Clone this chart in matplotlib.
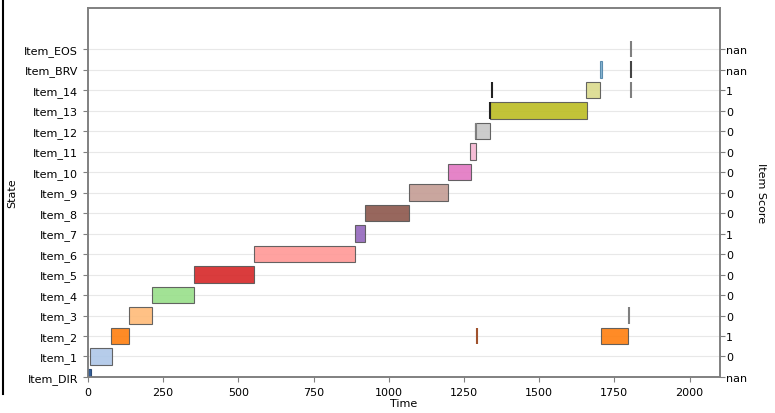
import matplotlib.pyplot as plt
from matplotlib.lines import Line2D

states = ["Item_DIR", "Item_1", "Item_2", "Item_3", "Item_4", "Item_5", "Item_6",
          "Item_7", "Item_8", "Item_9", "Item_10", "Item_11", "Item_12",
          "Item_13", "Item_14", "Item_BRV", "Item_EOS"]
scores = ["nan", "0", "1", "0", "0", "0", "0", "1", "0", "0", "0", "0", "0",
          "0", "1", "nan", "nan"]

# state intervals (row, start, end)
bar_rows = [0, 1, 2, 3, 4, 5, 6, 7, 8, 9, 10, 11, 12, 13, 14, 15, 2]
bar_start = [0, 8, 78, 135, 214, 351, 551, 887, 921, 1067, 1197, 1271, 1288,
             1336, 1657, 1703, 1707]
bar_end = [9, 79, 136, 214, 352, 551, 888, 921, 1068, 1198, 1272, 1289, 1338,
           1658, 1704, 1710, 1796]
bar_colors = ["#1f4f8f", "#aec7e8", "#ff7f0e", "#ffbb78", "#98df8a", "#d62728",
              "#ff9896", "#9467bd", "#8c564b", "#c49c94", "#e377c2", "#f7b6d2",
              "#c7c7c7", "#bcbd22", "#dbdb8d", "#7fb0d0", "#ff7f0e"]
edge_colors = ["#1f3f6f", "#555555", "#555555", "#555555", "#555555", "#555555",
               "#555555", "#555555", "#555555", "#555555", "#555555", "#555555",
               "#555555", "#555555", "#555555", "#4f84a8", "#555555"]

# single events (row, time)
event_rows = [16, 15, 14, 3, 2, 14, 13, 12]
event_time = [1805, 1805, 1805, 1798, 1292, 1343, 1338, 1289]
event_colors = ["#7f7f7f", "#444444", "#7f7f7f", "#7f7f7f", "#a0522d",
                "#222222", "#222222", "#7f7f7f"]

fig = plt.figure(figsize=(7.75, 4.14), dpi=100)
ax = fig.add_axes([0.1135, 0.087, 0.815, 0.891])

for r, s, e, c, ec in zip(bar_rows, bar_start, bar_end, bar_colors, edge_colors):
    ax.barh(r, e - s, left=s, height=0.8, color=c, edgecolor=ec,
            linewidth=0.8, alpha=0.9, zorder=3)

for r, t, c in zip(event_rows, event_time, event_colors):
    ax.vlines(t, r - 0.4, r + 0.4, color=c, linewidth=1.5, zorder=4)

ax.set_xlim(0, 2100)
ax.set_ylim(0, 18)
ax.set_yticks(range(len(states)))
ax.set_yticklabels(states, fontsize=8)
ax.set_xticks([0, 250, 500, 750, 1000, 1250, 1500, 1750, 2000])
ax.tick_params(axis="x", labelsize=8)
ax.set_xlabel("Time", fontsize=8, labelpad=1)
ax.set_ylabel("State", fontsize=8, labelpad=5)
ax.grid(axis="y", color="#e8e8e8", linewidth=0.8, zorder=0)

ax2 = ax.twinx()
ax2.set_ylim(ax.get_ylim())
ax2.set_yticks(range(len(scores)))
ax2.set_yticklabels(scores, fontsize=8)
ax2.tick_params(axis="y", pad=1)
ax2.set_ylabel("Item Score", rotation=270, fontsize=8, labelpad=14)

for a in (ax, ax2):
    for sp in a.spines.values():
        sp.set_color("#808080")
        sp.set_linewidth(1.2)
    a.tick_params(color="#808080")

fig.add_artist(Line2D([0.004, 0.004], [0.045, 1.0], color="black", linewidth=1.5))

fig.savefig("out.png", dpi=100)
